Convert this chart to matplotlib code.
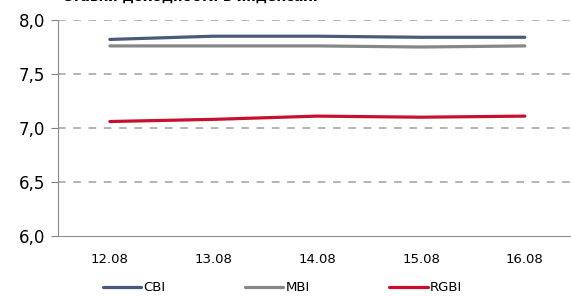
import matplotlib
matplotlib.use('Agg')
import matplotlib.pyplot as plt

# data
dates = ['12.08', '13.08', '14.08', '15.08', '16.08']
cbi = [7.82, 7.85, 7.85, 7.84, 7.84]
mbi = [7.76, 7.76, 7.76, 7.75, 7.76]
rgbi = [7.06, 7.08, 7.11, 7.10, 7.11]

W, H = 571, 296
fig = plt.figure(figsize=(W / 100, H / 100), dpi=100)
ax = fig.add_axes([58 / W, 60 / H, (W - 58) / W + 0.01, 216 / H])

x = range(len(dates))
ax.plot(x, cbi, color='#4b5a78', lw=2.3, solid_capstyle='round', label='CBI')
ax.plot(x, mbi, color='#878787', lw=2.3, solid_capstyle='round', label='MBI')
ax.plot(x, rgbi, color='#c8102e', lw=2.3, solid_capstyle='round', label='RGBI')

ax.set_xlim(-0.5, 4.5)
ax.set_ylim(6.0, 8.0)
ax.set_yticks([6.0, 6.5, 7.0, 7.5, 8.0])
ax.set_yticklabels(['6,0', '6,5', '7,0', '7,5', '8,0'], fontsize=12)
ax.set_xticks(list(x))
ax.set_xticklabels(dates, fontsize=9.5)
ax.tick_params(axis='x', length=0, pad=12)
ax.tick_params(axis='y', length=5, color='#808080', pad=4)

for s in ['top', 'right']:
    ax.spines[s].set_visible(False)
for s in ['left', 'bottom']:
    ax.spines[s].set_color('#8c8c8c')
ax.yaxis.grid(True, ls=(0, (5, 5)), color='#a0a0a0', lw=1.1)
ax.set_axisbelow(True)
ax.yaxis.get_gridlines()[0].set_visible(False)  # 6,0 sits on the axis line

fig.legend(loc='lower center', bbox_to_anchor=(0.495, -0.035), ncol=3, frameon=False,
           fontsize=9.5, handlelength=2.9, handletextpad=0.2, columnspacing=6.0)

# title is cut off at the top of the picture, only its lower edge shows
fig.text(62 / W, 1 - 1 / H, 'Ставки доходности в индексах:', fontsize=10,
         fontweight='bold', va='baseline', ha='left')

fig.savefig('out.png', dpi=100)
